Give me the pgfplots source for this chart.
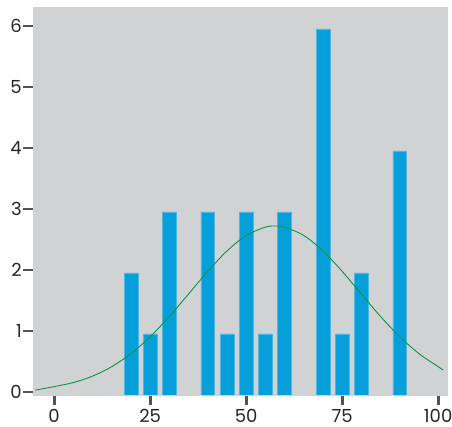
\documentclass[border=0pt]{standalone}
\usepackage{pgfplots}
\pgfplotsset{compat=1.18}
\usepackage{fontspec}
\setmainfont{Poppins}
\definecolor{bgray}{HTML}{D1D2D4}
\definecolor{barblue}{HTML}{079FDA}
\definecolor{baredge}{HTML}{4FB6E2}
\definecolor{cgreen}{HTML}{0B9548}
\pgfplotsset{every tick/.append style={black!67, line width=2.8pt}}
\begin{document}
\begin{tikzpicture}
\useasboundingbox (-33pt,-32pt) rectangle (419pt,395pt);
\begin{axis}[
  at={(0,0)}, anchor=south west,
  width=414pt, height=388pt, scale only axis,
  xmin=-5.5, xmax=102.3, ymin=0, ymax=6.36,
  axis background/.style={fill=bgray},
  axis line style={draw=none},
  xtick=\empty, ytick=\empty,
  ybar, bar width=3.6,
]
\addplot[fill=barblue, draw=baredge, line width=0.5pt] coordinates {
 (20,2) (25,1) (30,3) (40,3) (45,1) (50,3) (55,1) (60,3) (70,6) (75,1) (80,2) (90,4)
};
\end{axis}
\begin{axis}[
  at={(0,0)}, anchor=south west,
  width=414pt, height=388pt, scale only axis,
  xmin=-5.5, xmax=102.3, ymin=-0.05, ymax=6.31,
  axis line style={bgray},
  xtick pos=bottom, ytick pos=left,
  xtick align=outside, ytick align=outside,
  major tick length=10pt,
  xtick={0,25,50,75,100}, ytick={0,1,2,3,4,5,6},
  /pgf/number format/assume math mode=true,
  ticklabel style={font=\fontsize{18}{20}\selectfont, text=black!85},
  yticklabel style={inner sep=0pt, xshift=-1pt},
  xticklabel style={inner sep=0pt, yshift=-4pt},
]
\addplot[cgreen, line width=0.9pt, smooth] coordinates {
 (-4.9,0.03) (0,0.087) (5,0.154) (10,0.259) (15,0.414) (20,0.628) (25,0.904)
 (30,1.237) (35,1.605) (40,1.977) (45,2.311) (50,2.565) (55,2.702) (57.5,2.72)
 (60,2.702) (65,2.565) (70,2.311) (75,1.977) (80,1.605) (85,1.237) (90,0.904)
 (95,0.628) (100,0.414) (101.3,0.36)
};
\end{axis}
\end{tikzpicture}
\end{document}
